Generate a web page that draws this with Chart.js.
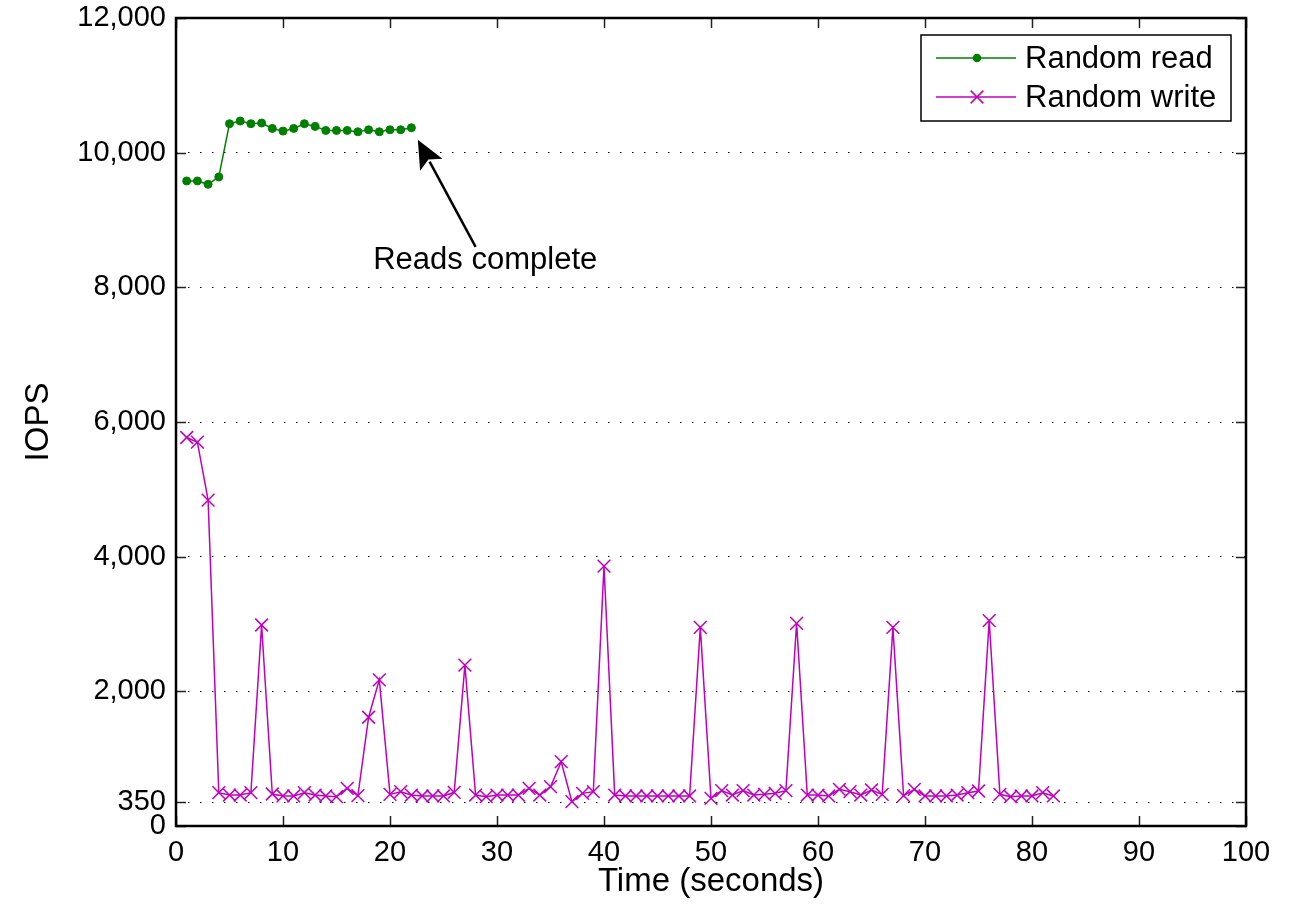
<!DOCTYPE html>
<html>
<head>
<meta charset="utf-8">
<script src="https://cdn.jsdelivr.net/npm/chart.js@4/dist/chart.umd.min.js"></script>
<style>
  html, body { margin: 0; padding: 0; background: #fff; }
  canvas { display: block; }
</style>
</head>
<body>
<canvas id="iops-chart" width="1303" height="911"></canvas>
<script>
// sample times (seconds)
const seconds = [1, 2, 3, 4, 5, 6, 7, 8, 9, 10, 11, 12, 13, 14, 15, 16, 17, 18, 19, 20,
  21, 22, 23, 24, 25, 26, 27, 28, 29, 30, 31, 32, 33, 34, 35, 36, 37, 38, 39, 40,
  41, 42, 43, 44, 45, 46, 47, 48, 49, 50, 51, 52, 53, 54, 55, 56, 57, 58, 59, 60,
  61, 62, 63, 64, 65, 66, 67, 68, 69, 70, 71, 72, 73, 74, 75, 76, 77, 78, 79, 80,
  81, 82];

// random read IOPS (first 22 seconds)
const readIops = [9580, 9580, 9530, 9640, 10430, 10470, 10430, 10440, 10360, 10320,
  10360, 10430, 10390, 10330, 10330, 10330, 10310, 10340, 10310, 10340, 10340, 10370];

// random write IOPS
const writeIops = [5770, 5700, 4840, 495, 460, 460, 495, 2985, 475, 446,
  446, 495, 460, 446, 436, 560, 450, 1615, 2170, 470,
  510, 460, 446, 446, 446, 500, 2390, 460, 436, 460,
  460, 460, 560, 460, 584, 955, 361, 485, 510, 3860,
  460, 446, 446, 446, 446, 446, 446, 446, 2950, 411,
  525, 460, 525, 460, 470, 485, 525, 3010, 460, 460,
  446, 545, 510, 460, 535, 470, 2950, 450, 545, 446,
  446, 446, 460, 495, 520, 3050, 470, 435, 446, 446,
  495, 446];

const yTicks = [0, 350, 2000, 4000, 6000, 8000, 10000, 12000];
const xTicks = [0, 10, 20, 30, 40, 50, 60, 70, 80, 90, 100];

// annotation in data units: arrow tip, arrow tail, label centre
const arrowTip = { x: 22.6, y: 10190 };
const arrowTail = { x: 28.0, y: 8600 };
const noteAt = { x: 28.9, y: 8400 };
const noteText = "Reads complete";

const GREEN = "#008000";
const MAGENTA = "#bf00bf";
const FONT = "'Liberation Sans', Arial, Helvetica, sans-serif";

function toPoints(xs, ys) {
  return ys.map((v, i) => ({ x: xs[i], y: v }));
}

// box round the axes, with inward ticks on all four sides
const axesBox = {
  id: "axesBox",
  afterDraw(chart) {
    const { ctx, chartArea: a, scales } = chart;
    ctx.save();
    ctx.strokeStyle = "#222";
    ctx.lineWidth = 1.5;
    ctx.beginPath();
    xTicks.forEach((t) => {
      const px = Math.round(scales.x.getPixelForValue(t)) + 0.5;
      ctx.moveTo(px, a.bottom);
      ctx.lineTo(px, a.bottom - 10);
      ctx.moveTo(px, a.top);
      ctx.lineTo(px, a.top + 10);
    });
    yTicks.forEach((t) => {
      const py = Math.round(scales.y.getPixelForValue(t)) + 0.5;
      ctx.moveTo(a.left, py);
      ctx.lineTo(a.left + 10, py);
      ctx.moveTo(a.right, py);
      ctx.lineTo(a.right - 10, py);
    });
    ctx.stroke();
    ctx.strokeStyle = "#000";
    ctx.lineWidth = 2.5;
    ctx.strokeRect(a.left, a.top, a.right - a.left, a.bottom - a.top);
    ctx.restore();
  },
};

// "Reads complete" arrow
const readsNote = {
  id: "readsNote",
  afterDraw(chart) {
    const { ctx, scales } = chart;
    const tx = scales.x.getPixelForValue(arrowTip.x);
    const ty = scales.y.getPixelForValue(arrowTip.y);
    const sx = scales.x.getPixelForValue(arrowTail.x);
    const sy = scales.y.getPixelForValue(arrowTail.y);
    const ang = Math.atan2(ty - sy, tx - sx);
    const headLen = 31;
    const headHalf = 0.42;
    ctx.save();
    ctx.strokeStyle = "#000";
    ctx.fillStyle = "#000";
    ctx.lineWidth = 2.5;
    ctx.beginPath();
    ctx.moveTo(sx, sy);
    ctx.lineTo(tx - Math.cos(ang) * headLen * 0.8, ty - Math.sin(ang) * headLen * 0.8);
    ctx.stroke();
    ctx.beginPath();
    ctx.moveTo(tx, ty);
    ctx.lineTo(tx - headLen * Math.cos(ang - headHalf), ty - headLen * Math.sin(ang - headHalf));
    ctx.lineTo(tx - headLen * 0.72 * Math.cos(ang), ty - headLen * 0.72 * Math.sin(ang));
    ctx.lineTo(tx - headLen * Math.cos(ang + headHalf), ty - headLen * Math.sin(ang + headHalf));
    ctx.closePath();
    ctx.fill();
    ctx.font = "31px " + FONT;
    ctx.textAlign = "center";
    ctx.textBaseline = "middle";
    ctx.fillText(noteText, scales.x.getPixelForValue(noteAt.x), scales.y.getPixelForValue(noteAt.y));
    ctx.restore();
  },
};

// matlab style legend box, top right
const boxLegend = {
  id: "boxLegend",
  afterDraw(chart) {
    const { ctx } = chart;
    const left = 921, top = 35, w = 310, h = 86;
    ctx.save();
    ctx.fillStyle = "#fff";
    ctx.fillRect(left, top, w, h);
    ctx.strokeStyle = "#000";
    ctx.lineWidth = 1.5;
    ctx.strokeRect(left, top, w, h);
    chart.data.datasets.forEach((ds, i) => {
      const y = 58 + i * 39;
      ctx.strokeStyle = ds.borderColor;
      ctx.lineWidth = 1.5;
      ctx.beginPath();
      ctx.moveTo(936, y);
      ctx.lineTo(1016, y);
      ctx.stroke();
      ctx.fillStyle = ds.borderColor;
      Chart.helpers.drawPoint(ctx, {
        pointStyle: ds.pointStyle,
        radius: ds.pointStyle === "circle" ? 3.5 : 9,
        borderWidth: 1.5,
        rotation: 0,
      }, 977, y);
      ctx.fillStyle = "#000";
      ctx.font = "31px " + FONT;
      ctx.textAlign = "left";
      ctx.textBaseline = "middle";
      ctx.fillText(ds.label, 1025, y + 1);
    });
    ctx.restore();
  },
};

var ctx = document.getElementById("iops-chart").getContext("2d");
var iopsChart = new Chart(ctx, {
  type: "line",
  data: {
    datasets: [
      {
        label: "Random read",
        data: toPoints(seconds, readIops),
        borderColor: GREEN,
        backgroundColor: GREEN,
        borderWidth: 1.5,
        pointStyle: "circle",
        pointRadius: 4,
        pointBorderWidth: 1,
        pointBackgroundColor: GREEN,
        pointBorderColor: GREEN,
        tension: 0,
      },
      {
        label: "Random write",
        data: toPoints(seconds, writeIops),
        borderColor: MAGENTA,
        backgroundColor: MAGENTA,
        borderWidth: 1.5,
        pointStyle: "crossRot",
        pointRadius: 9,
        pointBorderWidth: 1.5,
        pointBorderColor: MAGENTA,
        tension: 0,
      },
    ],
  },
  plugins: [axesBox, readsNote, boxLegend],
  options: {
    responsive: false,
    animation: false,
    events: [],
    layout: {
      padding: { top: 18, right: 57, left: 0, bottom: 0 },
    },
    plugins: {
      legend: { display: false },
      tooltip: { enabled: false },
    },
    scales: {
      x: {
        type: "linear",
        min: 0,
        max: 100,
        afterBuildTicks(scale) {
          scale.ticks = xTicks.map((v) => ({ value: v }));
        },
        afterFit(scale) {
          scale.height = 85;
          scale.paddingLeft = 0;
          scale.paddingRight = 0;
        },
        grid: { display: false, drawTicks: false },
        border: { display: false },
        ticks: {
          autoSkip: false,
          maxRotation: 0,
          padding: 10,
          color: "#000",
          font: { size: 29, family: FONT },
        },
        title: {
          display: true,
          text: "Time (seconds)",
          color: "#000",
          font: { size: 33, family: FONT },
          padding: { top: 0, bottom: 9 },
        },
      },
      y: {
        type: "linear",
        min: 0,
        max: 12000,
        afterBuildTicks(scale) {
          scale.ticks = yTicks.map((v) => ({ value: v }));
        },
        afterFit(scale) {
          scale.width = 176;
          scale.paddingTop = 0;
          scale.paddingBottom = 0;
        },
        grid: {
          display: true,
          drawTicks: false,
          color: "#000",
          lineWidth: 1,
        },
        border: { display: false, dash: [1.5, 10.5] },
        ticks: {
          autoSkip: false,
          padding: 10,
          color: "#000",
          font: { size: 29, family: FONT },
          callback: function (value) {
            return Number(value).toLocaleString("en-US");
          },
        },
        title: {
          display: true,
          text: "IOPS",
          color: "#000",
          font: { size: 33, family: FONT },
          padding: { top: 19, bottom: 0 },
        },
      },
    },
  },
});
</script>
</body>
</html>
